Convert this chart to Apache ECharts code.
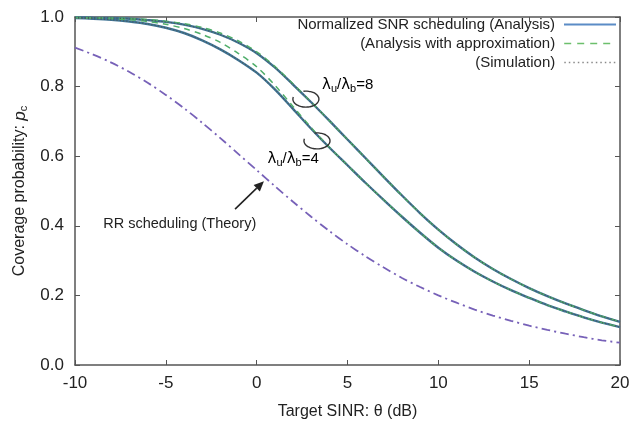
<!DOCTYPE html>
<html><head><meta charset="utf-8">
<script src="https://cdn.jsdelivr.net/npm/echarts@6/dist/echarts.min.js"></script>
<style>html,body{margin:0;padding:0;background:#fff}#c{width:644px;height:433px}</style>
</head><body><div id="c"></div>
<script>
var theta = [-10,-9,-8,-7,-6,-5,-4,-3,-2,-1,0,1,2,3,4,5,6,7,8,9,10,11,12,13,14,15,16,17,18,19,20];
var xTicks = [-10,-5,0,5,10,15,20];
var yTicks = [0,0.2,0.4,0.6,0.8,1.0];
// lambda_u/lambda_b = 8
var ns8Analysis = [0.999,0.998,0.997,0.995,0.991,0.986,0.978,0.966,0.949,0.926,0.896,0.855,0.806,0.755,0.702,0.648,0.594,0.540,0.487,0.436,0.389,0.347,0.309,0.276,0.247,0.221,0.198,0.177,0.158,0.140,0.124];
var ns8Approx    = [0.999,0.998,0.997,0.996,0.993,0.988,0.981,0.970,0.954,0.931,0.900,0.858,0.808,0.756,0.702,0.648,0.594,0.540,0.487,0.436,0.389,0.347,0.309,0.276,0.247,0.221,0.198,0.177,0.158,0.140,0.124];
var ns8Sim       = [0.999,0.998,0.997,0.995,0.991,0.986,0.978,0.966,0.949,0.926,0.896,0.855,0.806,0.755,0.702,0.648,0.594,0.540,0.487,0.436,0.389,0.347,0.309,0.276,0.247,0.221,0.198,0.177,0.158,0.140,0.124];
// lambda_u/lambda_b = 4
var ns4Analysis = [0.997,0.995,0.992,0.987,0.980,0.969,0.954,0.933,0.907,0.876,0.840,0.792,0.736,0.679,0.625,0.574,0.523,0.474,0.426,0.380,0.337,0.300,0.268,0.240,0.215,0.193,0.172,0.154,0.137,0.122,0.109];
var ns4Approx    = [0.998,0.997,0.995,0.992,0.987,0.979,0.967,0.950,0.927,0.895,0.857,0.804,0.743,0.682,0.626,0.574,0.523,0.474,0.426,0.380,0.337,0.300,0.268,0.240,0.215,0.193,0.172,0.154,0.137,0.122,0.109];
var ns4Sim       = [0.997,0.995,0.992,0.987,0.980,0.969,0.954,0.933,0.907,0.876,0.840,0.792,0.736,0.679,0.625,0.574,0.523,0.474,0.426,0.380,0.337,0.300,0.268,0.240,0.215,0.193,0.172,0.154,0.137,0.122,0.109];
// Round-robin scheduling (theory)
var rrTheory = [0.912,0.892,0.869,0.842,0.811,0.776,0.738,0.696,0.652,0.606,0.560,0.514,0.469,0.426,0.385,0.347,0.312,0.280,0.250,0.224,0.200,0.179,0.159,0.142,0.127,0.113,0.101,0.090,0.080,0.071,0.064];

var legendNames = ['Normalized SNR scheduling (Analysis)','(Analysis with approximation)','(Simulation)'];
var FONT = 'Liberation Sans, Arial, Helvetica, sans-serif';

function pairs(ys){ return theta.map(function(t,i){return [t, ys[i]];}); }

var cSolid = '#3f7496', cDash = '#4fae6a', cDot = '#4a5a5a', cRR = '#7761b8', cAxis = '#555';
var legendLine = [
  {color:'#5b8cc6', width:2, type:'solid'},
  {color:'#6cbf6c', width:1.6, type:[7,6]},
  {color:'#8a8a8a', width:1.4, type:[1.5,3]}
];

function lineSeries(name, ys, style){
  return {type:'line', name:name, data:pairs(ys), showSymbol:false, symbol:'none', smooth:0.3,
    lineStyle:style, itemStyle:{color:style.color}, z:2, animation:false};
}

var series = [
  lineSeries(legendNames[0], ns8Analysis, {color:cSolid, width:2.4, type:'solid'}),
  lineSeries(legendNames[0], ns4Analysis, {color:cSolid, width:2.4, type:'solid'}),
  lineSeries(legendNames[1], ns8Approx, {color:cDash, width:1.5, type:[6,5]}),
  lineSeries(legendNames[1], ns4Approx, {color:cDash, width:1.5, type:[6,5]}),
  lineSeries(legendNames[2], ns8Sim, {color:cDot, width:1.2, type:[1.2,2]}),
  lineSeries(legendNames[2], ns4Sim, {color:cDot, width:1.2, type:[1.2,2]}),
  lineSeries('RR', rrTheory, {color:cRR, width:1.8, type:[9,4,2,4]})
];

function legendFor(i, top){
  return {data:[legendNames[i]], orient:'vertical', right:27, top:top, align:'right',
    itemWidth:52, itemHeight:12, padding:0, selectedMode:false,
    itemStyle:{opacity:0, borderWidth:0}, lineStyle:legendLine[i],
    textStyle:{fontFamily:FONT, fontSize:15, color:'#222', padding:[0,4,0,0]}};
}

var chart = echarts.init(document.getElementById('c'), null, {renderer:'canvas'});
function axisCommon(){ return {
  axisLine:{show:true, onZero:false, lineStyle:{color:cAxis, width:1.5}},
  axisTick:{show:true, inside:true, length:5, lineStyle:{color:cAxis, width:1}},
  splitLine:{show:false}
};}
chart.setOption({
  backgroundColor:'#fff',
  animation:false,
  textStyle:{fontFamily:FONT},
  grid:{left:75, right:24, top:17, bottom:68, containLabel:false},
  legend:[legendFor(0,17), legendFor(1,36), legendFor(2,55)],
  xAxis:[
    Object.assign({type:'value', min:-10, max:20, interval:5, position:'bottom',
      name:'Target SINR: θ (dB)', nameLocation:'middle', nameGap:39,
      nameTextStyle:{fontFamily:FONT, fontSize:16, color:'#222'},
      axisLabel:{fontFamily:FONT, fontSize:17, color:'#222', margin:10}}, axisCommon()),
    Object.assign({type:'value', min:-10, max:20, interval:5, position:'top', axisLabel:{show:false}}, axisCommon())
  ],
  yAxis:[
    Object.assign({type:'value', min:0, max:1, interval:0.2, position:'left',
      name:'Coverage probability: {i|p}{s|c}', nameLocation:'middle', nameGap:46, nameRotate:90,
      nameTextStyle:{fontFamily:FONT, fontSize:16, color:'#222',
        rich:{i:{fontFamily:FONT, fontSize:17, fontStyle:'italic', color:'#222'},
              s:{fontFamily:FONT, fontSize:11, color:'#222', padding:[7,0,0,0]}}},
      axisLabel:{fontFamily:FONT, fontSize:17, color:'#222', margin:11,
        formatter:function(v){return v.toFixed(1);}}}, axisCommon()),
    Object.assign({type:'value', min:0, max:1, interval:0.2, position:'right', axisLabel:{show:false}}, axisCommon())
  ],
  series:series
});

function px(x,y){ return chart.convertToPixel({xAxisIndex:0, yAxisIndex:0},[x,y]); }
var l8 = px(3.6, 0.832), l4 = px(0.6, 0.620);
var e8 = px(2.71, 0.764), e4 = px(3.32, 0.644);
var rrLbl = px(-8.45, 0.428);
var arrS = px(-1.19, 0.448), arrE = px(0.4, 0.528);
var rich = {
  b:{fontFamily:'DejaVu Sans', fontSize:15, color:'#222'},
  n:{fontFamily:FONT, fontSize:15, color:'#222'},
  s:{fontFamily:FONT, fontSize:11, color:'#222', padding:[8,0,0,0]}
};
function ell(c){
  var pts = [], rx = 13, ry = 8;
  for (var a = 165; a <= 465; a += 8){
    var r = a*Math.PI/180;
    pts.push([c[0] + rx*Math.cos(r), c[1] - ry*Math.sin(r)]);
  }
  return {type:'polyline', z:10, shape:{points:pts, smooth:0.3}, style:{fill:null, stroke:'#333', lineWidth:1.4}};
}
var ang = Math.atan2(arrE[1]-arrS[1], arrE[0]-arrS[0]);
var hl = 10, hw = 4.5;
var tip = arrE, bx = tip[0]-hl*Math.cos(ang), by = tip[1]-hl*Math.sin(ang);
chart.setOption({graphic:[
  {type:'text', x:l8[0], y:l8[1], z:10, style:{text:'{b|λ}{s|u}{n|/}{b|λ}{s|b}{n|=8}', rich:rich}},
  {type:'text', x:l4[0], y:l4[1], z:10, style:{text:'{b|λ}{s|u}{n|/}{b|λ}{s|b}{n|=4}', rich:rich}},
  ell(e8), ell(e4),
  {type:'text', x:rrLbl[0], y:rrLbl[1], z:10, style:{text:'RR scheduling (Theory)', font:'14.5px Liberation Sans, Arial, sans-serif', fill:'#222'}},
  {type:'line', z:10, shape:{x1:arrS[0], y1:arrS[1], x2:bx, y2:by}, style:{stroke:'#222', lineWidth:1.6}},
  {type:'polygon', z:10, shape:{points:[[tip[0],tip[1]],[bx+hw*Math.sin(ang), by-hw*Math.cos(ang)],[bx-hw*Math.sin(ang), by+hw*Math.cos(ang)]]}, style:{fill:'#222'}}
]});
</script></body></html>
